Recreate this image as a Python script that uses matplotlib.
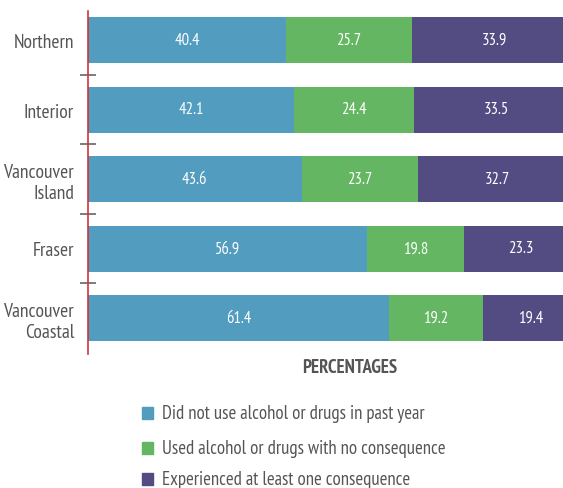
import matplotlib
matplotlib.use("Agg")
import matplotlib.pyplot as plt
from matplotlib.patches import Rectangle
import numpy as np

regions = ["Northern", "Interior", "Vancouver\nIsland", "Fraser", "Vancouver\nCoastal"]
no_use = [40.4, 42.1, 43.6, 56.9, 61.4]
no_conseq = [25.7, 24.4, 23.7, 19.8, 19.2]
conseq = [33.9, 33.5, 32.7, 23.3, 19.4]
series_labels = ["Did not use alcohol or drugs in past year",
                 "Used alcohol or drugs with no consequence",
                 "Experienced at least one consequence"]
colors = ["#519cbf", "#64b662", "#524c82"]

plt.rcParams['font.family'] = ['PT Sans Narrow', 'DejaVu Sans']
gray = "#555555"

fig = plt.figure(figsize=(5.63, 4.89), dpi=100)
ax = fig.add_axes([88/563, 1-355/489, 475/563, 343/489])

y = np.arange(len(regions))
h = 46/69.5
left = np.zeros(len(regions))
for vals, c in zip([no_use, no_conseq, conseq], colors):
    vals = np.array(vals)
    ax.barh(y, vals, left=left, height=h, color=c, edgecolor='none')
    for yi, l, v in zip(y, left, vals):
        ax.text(l + v/2, yi, f"{v:.1f}", ha='center', va='center', color='white', fontsize=12)
    left = left + vals

ax.set_xlim(0, 475/4.9)
ax.set_ylim(4 + 36/69.5, -29/69.5)
ax.set_yticks(y)
ax.set_yticklabels(regions, fontsize=14, color=gray, linespacing=1.25)
ax.tick_params(axis='y', which='major', length=0, pad=10)
ax.set_yticks([0.5, 1.5, 2.5, 3.5], minor=True)
ax.tick_params(axis='y', which='minor', length=12, direction='inout', color='#666666', width=1.2)
ax.set_xticks([])
for s in ['top', 'right', 'bottom']:
    ax.spines[s].set_visible(False)
ax.spines['left'].set_color('#d0343c')
ax.spines['left'].set_linewidth(1.2)

fig.text(350/563, 1-368/489, "PERCENTAGES", ha='center', va='center', fontsize=13.5,
         fontweight='bold', color=gray)

leg_y = [414, 449, 480]
for yy, c, lab in zip(leg_y, colors, series_labels):
    fig.patches.append(Rectangle((142/563, 1-(yy+6)/489), 11/563, 12/489,
                                 transform=fig.transFigure, color=c))
    fig.text(162/563, 1-yy/489, lab, ha='left', va='center', fontsize=13.5, color=gray)

fig.savefig("out.png", dpi=100)
